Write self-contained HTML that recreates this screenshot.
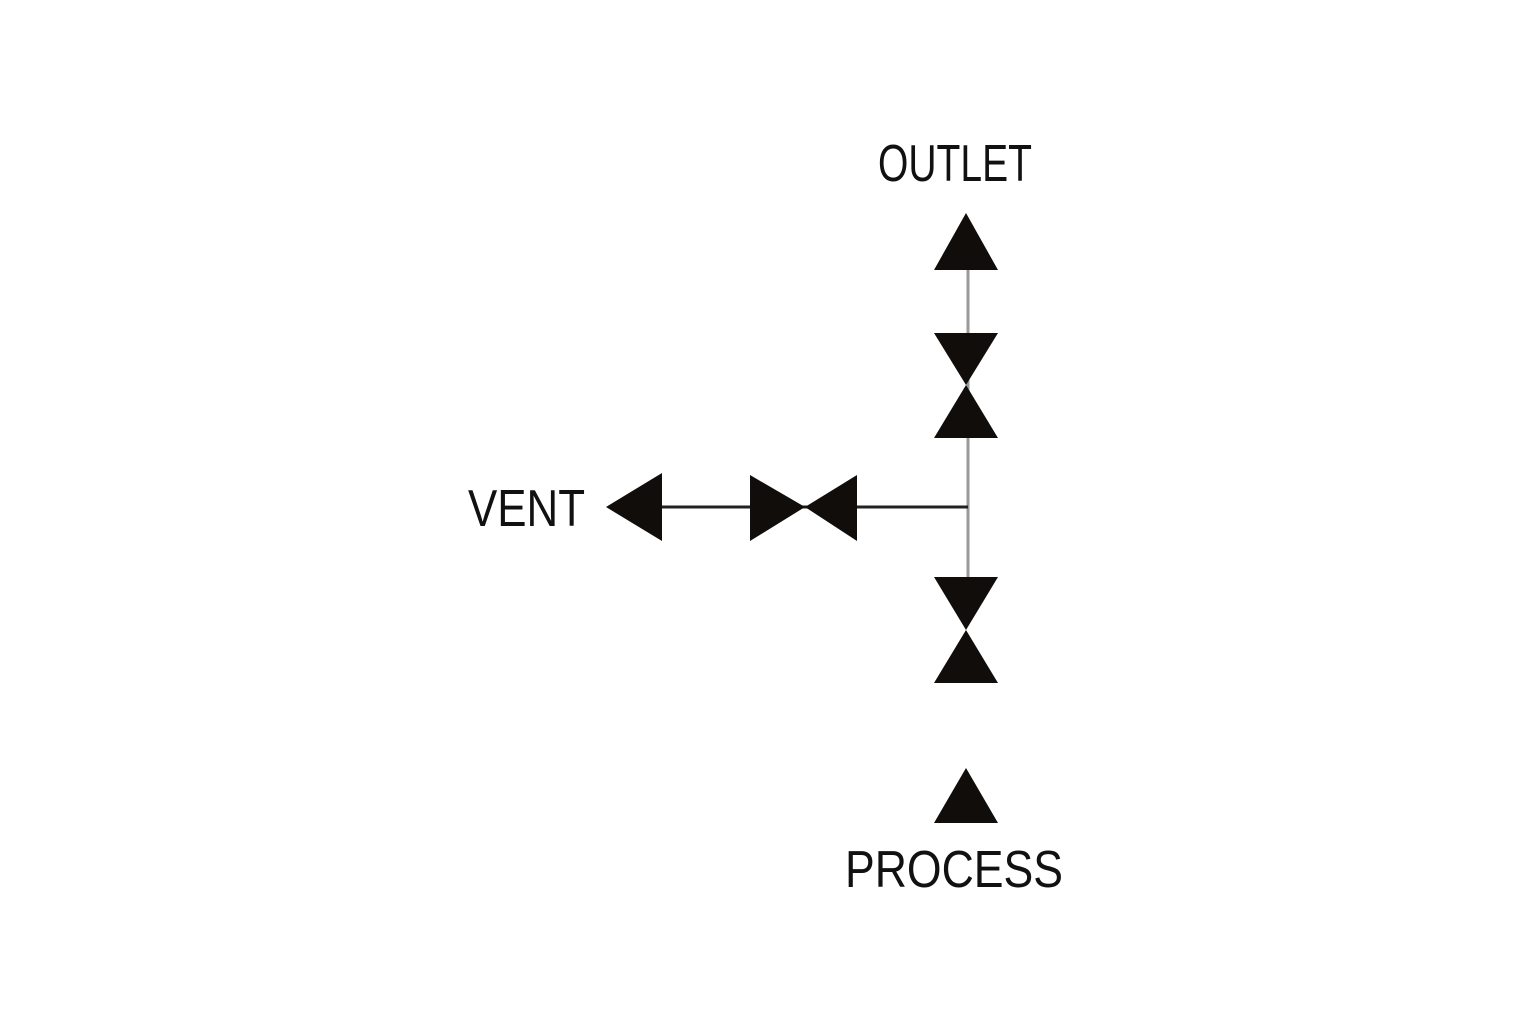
<!DOCTYPE html>
<html><head><meta charset="utf-8"><style>html,body{margin:0;padding:0;background:#fff}svg{display:block}</style></head>
<body>
<svg width="1536" height="1024" viewBox="0 0 1536 1024" xmlns="http://www.w3.org/2000/svg">
<rect width="1536" height="1024" fill="#fff"/>
<g font-family="Liberation Sans, sans-serif" font-size="52" fill="#111">
<text x="878" y="181" textLength="154" lengthAdjust="spacingAndGlyphs">OUTLET</text>
<text x="468" y="526" textLength="117" lengthAdjust="spacingAndGlyphs">VENT</text>
<text x="845" y="887" textLength="218" lengthAdjust="spacingAndGlyphs">PROCESS</text>
</g>
<line x1="968" y1="268" x2="968" y2="580" stroke="#999" stroke-width="3"/>
<line x1="660" y1="507" x2="968" y2="507" stroke="#222" stroke-width="3"/>
<g fill="#110d0a">
<polygon points="966,213 998,270 934,270"/>
<polygon points="934,333 998,333 966,385"/>
<polygon points="966,385 998,438 934,438"/>
<polygon points="934,577 998,577 966,630"/>
<polygon points="966,630 998,683 934,683"/>
<polygon points="966,768 998,823 934,823"/>
<polygon points="606,507 662,473 662,541"/>
<polygon points="750,475 805,507 750,541"/>
<polygon points="805,507 857,475 857,541"/>
</g>
</svg>
</body></html>
